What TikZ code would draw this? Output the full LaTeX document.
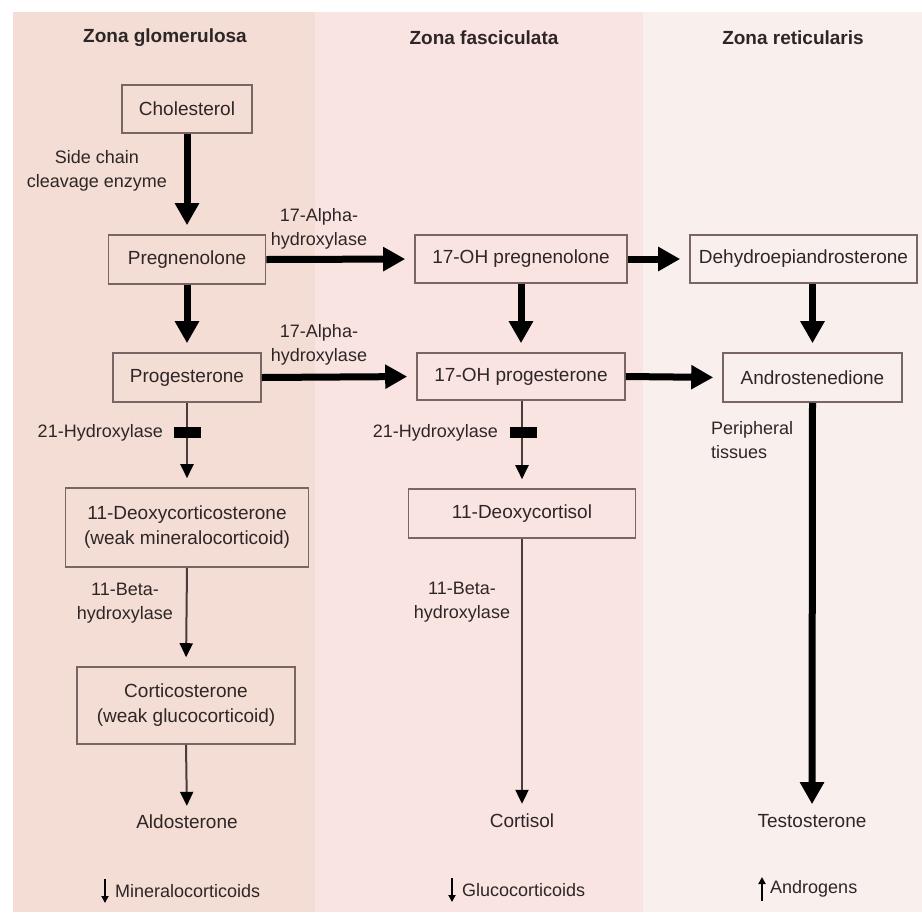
\documentclass[tikz,border=0pt]{standalone}
\usepackage{fontspec}
\setmainfont{Liberation Sans}
\usetikzlibrary{arrows.meta,calc}
\definecolor{zoneA}{HTML}{F3DDD5}
\definecolor{zoneB}{HTML}{F9E4E2}
\definecolor{zoneC}{HTML}{F9EFED}
\definecolor{boxline}{HTML}{7A6565}
\definecolor{txt}{HTML}{2E2626}
\definecolor{thinline}{HTML}{4A3C3C}
\begin{document}
\begin{tikzpicture}[x=1pt,y=-1pt,
  every node/.style={text=txt},
  boxnode/.style={draw=boxline, line width=1.6pt, inner sep=0pt, align=center,
    font=\fontsize{19}{25}\selectfont},
  plain/.style={inner sep=0pt, align=center, font=\fontsize{19}{25}\selectfont},
  lab/.style={inner sep=0pt, align=center, font=\fontsize{18}{24}\selectfont},
  head/.style={inner sep=0pt, font=\bfseries\fontsize{19}{23}\selectfont},
  bigarrow/.style={line width=7pt, draw=black, -{Triangle[width=23pt,length=22pt]}, shorten >=9pt},
  thinarrow/.style={line width=2pt, draw=thinline, -{Triangle[width=13pt,length=14pt,color=black,fill=black]}, shorten >=9pt},
  blocker/.style={fill=black, inner sep=0pt, minimum width=27pt, minimum height=11pt},
  smallarrow/.style={line width=2.2pt, draw=black, -{Triangle[width=7pt,length=7pt]}}
]
\useasboundingbox (0,0) rectangle (922,914);
\fill[white] (0,0) rectangle (922,914);
% zones
\fill[zoneA] (13,12) rectangle (315,912);
\fill[zoneB] (315,12) rectangle (643,912);
\fill[zoneC] (643,12) rectangle (922,912);

% headers
\node[head] (h1) at (165,38) {Zona glomerulosa};
\node[head] (h2) at (484,38) {Zona fasciculata};
\node[head] (h3) at (793,38) {Zona reticularis};

% boxes
\node[boxnode, minimum width=130pt, minimum height=48pt] (chol) at (187,109) {Cholesterol};
\node[boxnode, minimum width=157pt, minimum height=49pt] (preg) at (187,259.5) {Pregnenolone};
\node[boxnode, minimum width=148pt, minimum height=49pt] (prog) at (187,377.5) {Progesterone};
\node[boxnode, minimum width=212pt, minimum height=48pt] (ohpreg) at (521,259) {17-OH pregnenolone};
\node[boxnode, minimum width=208pt, minimum height=47pt] (ohprog) at (521,376.5) {17-OH progesterone};
\node[boxnode, minimum width=227pt, minimum height=48pt] (dhea) at (803.5,259) {Dehydroepiandrosterone};
\node[boxnode, minimum width=179pt, minimum height=49pt] (andro) at (812.5,377.5) {Androstenedione};
\node[boxnode, minimum width=243pt, minimum height=79pt] (doc) at (187,527.5) {11-Deoxycorticosterone\\(weak mineralocorticoid)};
\node[boxnode, minimum width=218pt, minimum height=77pt] (cortico) at (186,705.5) {Corticosterone\\(weak glucocorticoid)};
\node[boxnode, minimum width=227pt, minimum height=49pt] (dcort) at (522,513.5) {11-Deoxycortisol};

% end products
\node[plain] (aldo) at (187,822) {Aldosterone};
\node[plain] (cortisol) at (522,821) {Cortisol};
\node[plain] (testo) at (812,821) {Testosterone};

% enzyme labels
\node[lab] (scc) at (97,171) {Side chain\\cleavage enzyme};
\node[lab] (alpha1) at (319,229) {17-Alpha-\\hydroxylase};
\node[lab] (alpha2) at (319,345) {17-Alpha-\\hydroxylase};
\node[lab, anchor=east] (hyd1) at (163,433) {21-Hydroxylase};
\node[lab, anchor=east] (hyd2) at (498,433) {21-Hydroxylase};
\node[lab] (beta1) at (125,603) {11-Beta-\\hydroxylase};
\node[lab] (beta2) at (462,602) {11-Beta-\\hydroxylase};
\node[lab, align=left, anchor=west] (periph) at (711,440) {Peripheral\\tissues};

% thick arrows
\draw[bigarrow] (chol.south) -- (preg.north);
\draw[bigarrow] (preg.south) -- (prog.north);
\draw[bigarrow] (preg.east) -- (ohpreg.west);
\draw[bigarrow] (prog.east) -- (ohprog.west);
\draw[bigarrow] (ohpreg.south) -- (ohprog.north);
\draw[bigarrow] (ohpreg.east) -- (dhea.west);
\draw[bigarrow] (ohprog.east) -- (andro.west);
\draw[bigarrow] (dhea.south -| andro.north) -- (andro.north);
\draw[bigarrow, shorten >=10pt] (andro.south) -- (testo.north);

% thin arrows
\draw[thinarrow] (prog.south) -- (doc.north);
\draw[thinarrow] (doc.south) -- (cortico.north);
\draw[thinarrow, shorten >=9pt] (cortico.south) -- (aldo.north);
\draw[thinarrow] (ohprog.south -| dcort.north) -- (dcort.north);
\draw[thinarrow, shorten >=10pt] (dcort.south) -- (cortisol.north);

% inhibition blocks
\node[blocker] (blk1) at (187,432.5) {};
\node[blocker] (blk2) at (523,432.5) {};

% bottom labels
\node[lab, anchor=west] (mineral) at (115,891) {Mineralocorticoids};
\node[lab, anchor=west] (gluco) at (462,890) {Glucocorticoids};
\node[lab, anchor=west] (andrg) at (770,889) {Androgens};
\coordinate (m1) at ($(mineral.west)+(-10,-12)$);
\coordinate (m2) at ($(mineral.west)+(-10,12)$);
\coordinate (g1) at ($(gluco.west)+(-10,-12)$);
\coordinate (g2) at ($(gluco.west)+(-10,12)$);
\coordinate (a1) at ($(andrg.west)+(-8,12)$);
\coordinate (a2) at ($(andrg.west)+(-8,-12)$);
\draw[smallarrow] (m1) -- (m2);
\draw[smallarrow] (g1) -- (g2);
\draw[smallarrow] (a1) -- (a2);
\end{tikzpicture}
\end{document}
